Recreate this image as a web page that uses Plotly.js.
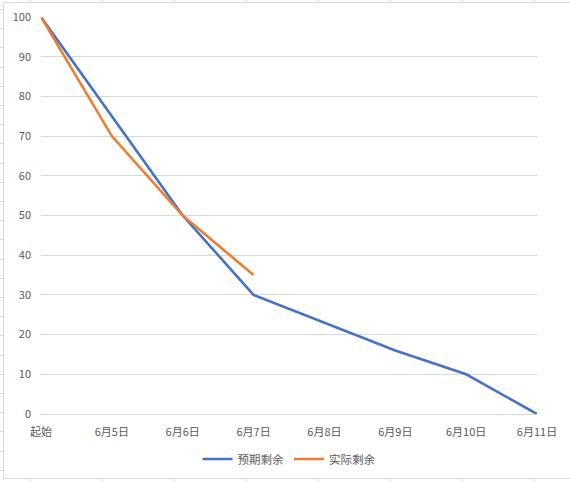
<!DOCTYPE html>
<html>
<head>
<meta charset="utf-8">
<script src="https://cdn.plot.ly/plotly-3.0.1.min.js"></script>
<style>html,body{margin:0;padding:0;background:#fff;}#chart{width:570px;height:482px;}</style>
</head>
<body>
<div id="chart"></div>
<script>
const categories = ["起始", "6月5日", "6月6日", "6月7日", "6月8日", "6月9日", "6月10日", "6月11日"];
const expectedName = "预期剩余";
const actualName = "实际剩余";
const expectedRemaining = [100, 75, 50, 30, 23, 16, 10, 0];
const actualRemaining = [100, 70, 50, 35];
const yTicks = [0, 10, 20, 30, 40, 50, 60, 70, 80, 90, 100];

const FONT = '"Noto Sans CJK SC", "Microsoft YaHei", sans-serif';
const TXT = '#595959';
const GRID = '#D9D9D9';

const traces = [
  {
    x: categories, y: expectedRemaining, name: expectedName, type: 'scatter', mode: 'lines',
    line: {color: '#4472C4', width: 2.6}
  },
  {
    x: categories.slice(0, actualRemaining.length), y: actualRemaining, name: actualName, type: 'scatter', mode: 'lines',
    line: {color: '#ED7D31', width: 2.6}
  }
];

// spreadsheet frame decorations, positions in page pixels converted to paper coords
const W = 570, H = 482;
const M = {l: 41, r: 33, t: 17, b: 68};
const PW = W - M.l - M.r, PH = H - M.t - M.b;
const shapes = [];
function px(x){return (x - M.l) / PW;}
function py(y){return (H - M.b - y) / PH;}
const lineStyle = {color: GRID, width: 1};
shapes.push({type:'line', xref:'paper', yref:'paper', x0:px(3), x1:px(570), y0:py(2.5), y1:py(2.5), line:lineStyle});
shapes.push({type:'line', xref:'paper', yref:'paper', x0:px(3), x1:px(570), y0:py(478.5), y1:py(478.5), line:lineStyle});
shapes.push({type:'line', xref:'paper', yref:'paper', x0:px(3.5), x1:px(3.5), y0:py(2), y1:py(479), line:lineStyle});
[30, 102, 174, 246, 318, 390, 462, 534].forEach(function(x){
  shapes.push({type:'line', xref:'paper', yref:'paper', x0:px(x+0.5), x1:px(x+0.5), y0:py(0), y1:py(2.5), line:lineStyle});
  shapes.push({type:'line', xref:'paper', yref:'paper', x0:px(x+0.5), x1:px(x+0.5), y0:py(478.5), y1:py(482), line:lineStyle});
});
for (let y = 9; y < 476; y += 19.2) {
  const yy = Math.round(y) + 0.5;
  shapes.push({type:'line', xref:'paper', yref:'paper', x0:px(0), x1:px(3.5), y0:py(yy), y1:py(yy), line:lineStyle});
}

const layout = {
  width: W, height: H,
  margin: {l: M.l, r: M.r, t: M.t, b: M.b, pad: 0, autoexpand: false},
  paper_bgcolor: '#ffffff', plot_bgcolor: '#ffffff',
  font: {family: FONT, size: 11, color: TXT},
  showlegend: true,
  legend: {
    orientation: 'h', x: 0.5, xanchor: 'center',
    y: py(459), yanchor: 'middle',
    font: {family: FONT, size: 11.5, color: TXT},
    itemwidth: 30, tracegroupgap: 0
  },
  xaxis: {
    type: 'category', range: [0, 7], automargin: false,
    showgrid: false, zeroline: false, showline: false,
    ticks: '', ticklabelstandoff: 10,
    tickfont: {family: FONT, size: 11, color: TXT},
    fixedrange: true
  },
  yaxis: {
    range: [0, 100], tickvals: yTicks, ticktext: yTicks.map(String), automargin: false,
    showgrid: true, gridcolor: GRID, gridwidth: 1,
    zeroline: true, zerolinecolor: GRID, zerolinewidth: 1,
    showline: false, ticks: '', ticklabelstandoff: 9,
    tickfont: {family: FONT, size: 11, color: TXT},
    fixedrange: true
  },
  shapes: shapes
};

Plotly.newPlot('chart', traces, layout, {displayModeBar: false, staticPlot: true});
</script>
</body>
</html>
